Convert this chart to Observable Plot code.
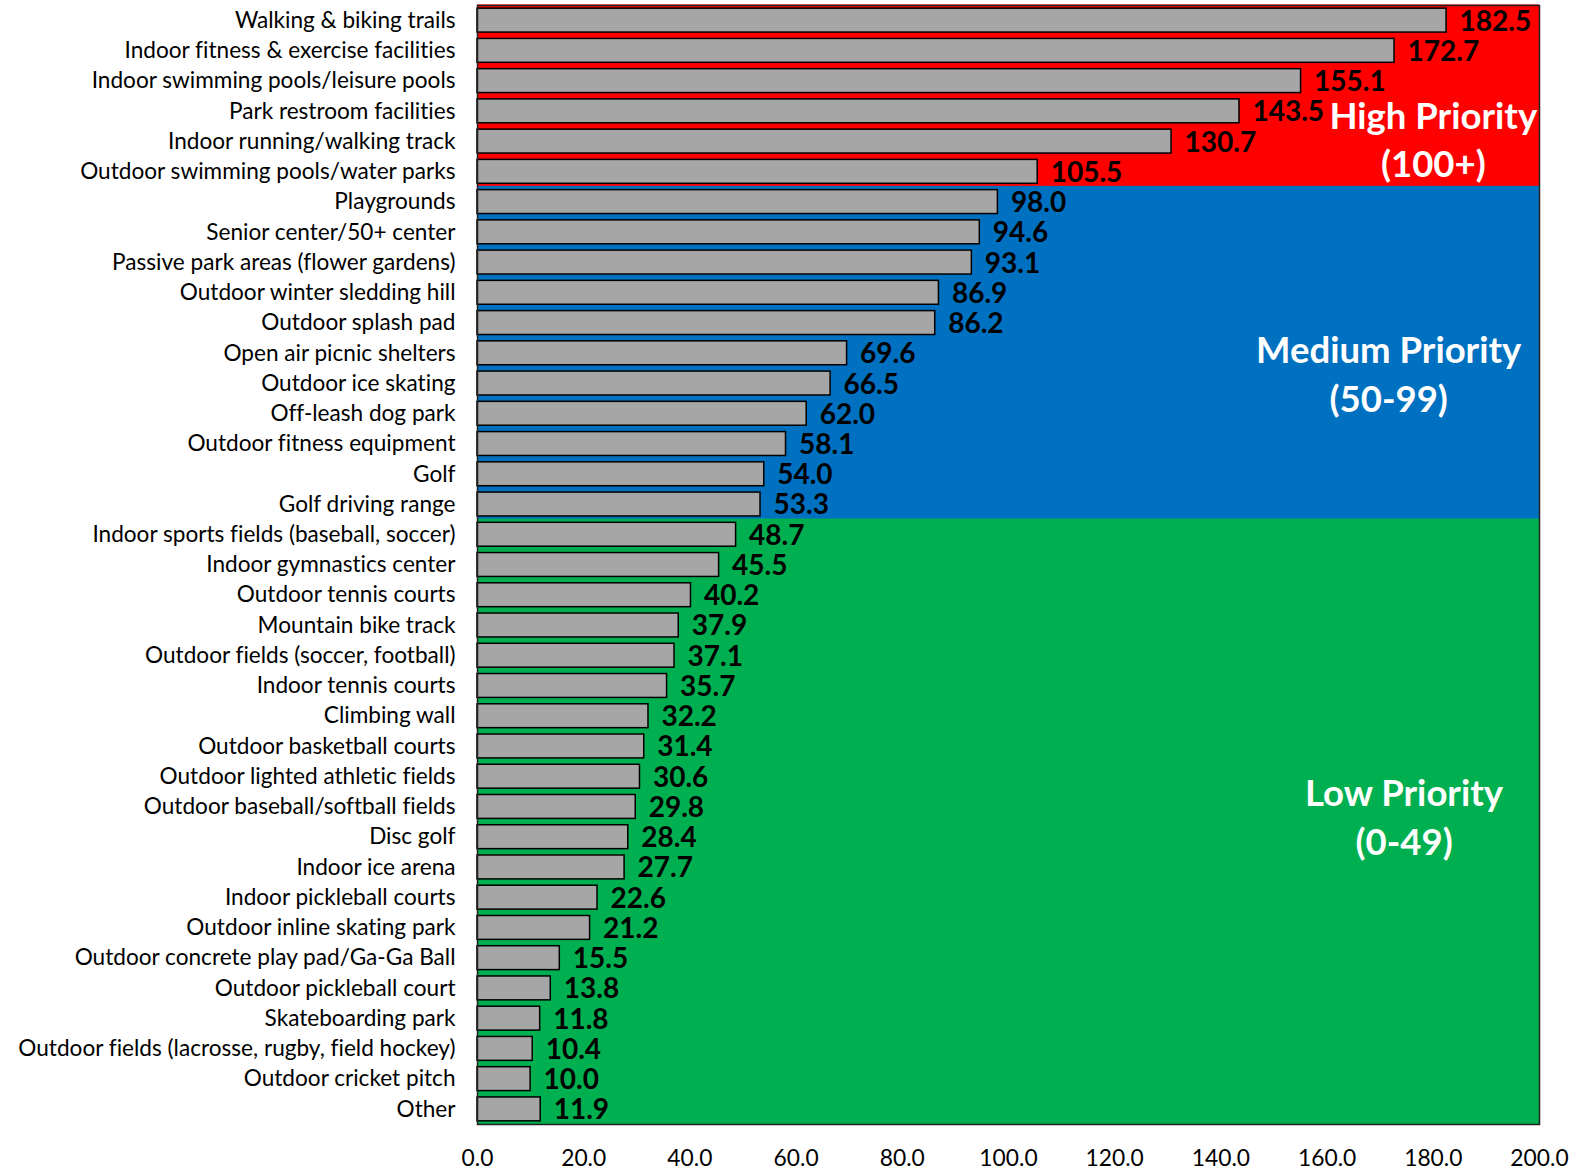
<!DOCTYPE html>
<html><head><meta charset="utf-8">
<script src="https://cdn.jsdelivr.net/npm/d3@7"></script>
<script src="https://cdn.jsdelivr.net/npm/@observablehq/plot@0.6"></script>
<style>body{margin:0;background:#fff;} svg{display:block;font-variant-ligatures:none;} svg text{font-variant-ligatures:none;}</style>
</head><body><div id="chart"></div>
<script>
const categories = [
  "Walking & biking trails",
  "Indoor fitness & exercise facilities",
  "Indoor swimming pools/leisure pools",
  "Park restroom facilities",
  "Indoor running/walking track",
  "Outdoor swimming pools/water parks",
  "Playgrounds",
  "Senior center/50+ center",
  "Passive park areas (flower gardens)",
  "Outdoor winter sledding hill",
  "Outdoor splash pad",
  "Open air picnic shelters",
  "Outdoor ice skating",
  "Off-leash dog park",
  "Outdoor fitness equipment",
  "Golf",
  "Golf driving range",
  "Indoor sports fields (baseball, soccer)",
  "Indoor gymnastics center",
  "Outdoor tennis courts",
  "Mountain bike track",
  "Outdoor fields (soccer, football)",
  "Indoor tennis courts",
  "Climbing wall",
  "Outdoor basketball courts",
  "Outdoor lighted athletic fields",
  "Outdoor baseball/softball fields",
  "Disc golf",
  "Indoor ice arena",
  "Indoor pickleball courts",
  "Outdoor inline skating park",
  "Outdoor concrete play pad/Ga-Ga Ball",
  "Outdoor pickleball court",
  "Skateboarding park",
  "Outdoor fields (lacrosse, rugby, field hockey)",
  "Outdoor cricket pitch",
  "Other"
];
const values = [182.5, 172.7, 155.1, 143.5, 130.7, 105.5, 98.0, 94.6, 93.1, 86.9, 86.2, 69.6, 66.5, 62.0, 58.1, 54.0, 53.3,
  48.7, 45.5, 40.2, 37.9, 37.1, 35.7, 32.2, 31.4, 30.6, 29.8, 28.4, 27.7, 22.6, 21.2, 15.5, 13.8, 11.8, 10.4, 10.0, 11.9];
const xTicks = [0, 20, 40, 60, 80, 100, 120, 140, 160, 180, 200];

const priorityColors = {High: "#FF0000", Medium: "#0070C0", Low: "#00B050"};
const groupLabels = ["High Priority\n(100+)", "Medium Priority\n(50-99)", "Low Priority\n(0-49)"];
const groupLabelRows = ["Indoor running/walking track", "Outdoor ice skating", "Outdoor baseball/softball fields"];
const groupLabelX = [180, 171.6, 174.5];
const groupLabelDy = [-4, -11.5, 8];

const data = categories.map((name, i) => {
  const v = values[i];
  const p = v >= 100 ? "High" : v >= 50 ? "Medium" : "Low";
  return {name, value: v, color: priorityColors[p]};
});
const annotations = groupLabels.map((t, i) => ({text: t, y: groupLabelRows[i], x: groupLabelX[i], dy: groupLabelDy[i]}));

const W = 1589, H = 1171, mT = 5, mB = 47;
const step = (H - mT - mB) / categories.length;
const pad = 0.21;
const bgInset = -(step * pad / 2) - 0.6;

const chart = Plot.plot({
  width: W, height: H,
  marginLeft: 477, marginRight: 50, marginTop: mT, marginBottom: mB,
  style: {fontFamily: "Lato, 'Open Sans', sans-serif", fontSize: "22.6px", color: "#000", background: "#fff"},
  x: {domain: [0, 200], ticks: xTicks, tickFormat: d => d.toFixed(1), label: null, tickSize: 0, tickPadding: 25},
  y: {domain: categories, paddingInner: pad, paddingOuter: pad / 2, round: false, label: null, tickSize: 0, tickPadding: 22},
  color: {type: "identity"},
  marks: [
    Plot.barX(data, {x1: 0, x2: 200, y: "name", fill: "color", insetTop: bgInset, insetBottom: bgInset}),
    Plot.barX(data, {x: "value", y: "name", fill: "#A6A6A6", stroke: "#000", strokeWidth: 1.5}),
    Plot.text(data, {x: "value", y: "name", text: d => d.value.toFixed(1), dx: 13, dy: 1, textAnchor: "start",
      fontWeight: "bold", fontSize: 28, fill: "#000"}),
    ...annotations.map(a => Plot.text([a], {x: "x", y: "y", text: "text", dy: a.dy, fill: "#fff", fontWeight: "bold",
      fontSize: 36.5, lineHeight: 1.33, textAnchor: "middle"})),
    Plot.frame({stroke: "#222", strokeWidth: 1.5})
  ]
});
chart.querySelectorAll("g[aria-label='x-axis tick label']").forEach(el => el.setAttribute("font-size", "22.8"));
document.getElementById("chart").appendChild(chart);
</script>
</body></html>
